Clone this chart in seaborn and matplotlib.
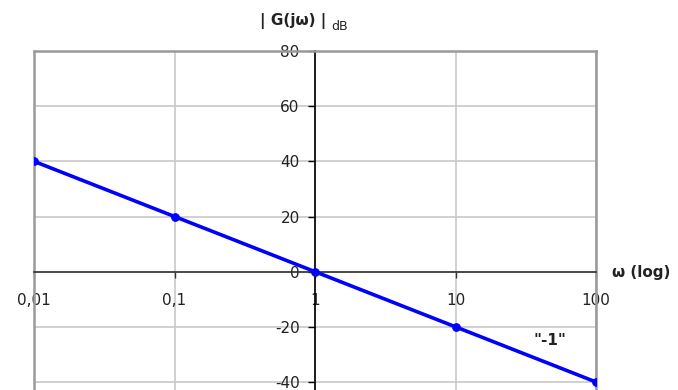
import matplotlib
matplotlib.use("Agg")
import matplotlib.pyplot as plt
import seaborn as sns
import pandas as pd

# Bode magnitude asymptote of an integrator, G(jw) = 1/(jw)
omega = [0.01, 0.1, 1, 10, 100]
gain_db = [40, 20, 0, -20, -40]
x_ticks = [0.01, 0.1, 1, 10, 100]
x_tick_labels = ["0,01", "0,1", "1", "10", "100"]
y_ticks = [-40, -20, 0, 20, 40, 60, 80]
y_tick_labels = ["-40", "-20", "0", "20", "40", "60", "80"]

df = pd.DataFrame({"omega": omega, "gain": gain_db})

sns.set_theme(style="white")
plt.rcParams["font.family"] = ["DejaVu Sans"]

fig = plt.figure(figsize=(6.78, 3.90), dpi=100)
ax = fig.add_axes([34 / 678, 0.0, (596 - 34) / 678, (390 - 51) / 390])

ax.set_xscale("log")
ax.set_xlim(0.01, 100)
ax.set_ylim(-42.9, 80)

# light grid
for xv in x_ticks:
    ax.axvline(xv, color="#c8c8c8", lw=1.2, zorder=0)
for yv in y_ticks:
    ax.axhline(yv, color="#c8c8c8", lw=1.2, zorder=0)

sns.lineplot(data=df, x="omega", y="gain", ax=ax, color="#0000ff",
             linewidth=2.6, marker="o", markersize=5.5,
             markeredgecolor="#0000ff", zorder=3)

# frame
for side in ["top", "right"]:
    ax.spines[side].set_color("#999999")
    ax.spines[side].set_linewidth(1.8)
ax.spines["left"].set_position(("data", 1))
ax.spines["left"].set_color("black")
ax.spines["left"].set_linewidth(1.2)
ax.spines["bottom"].set_position(("data", 0))
ax.spines["bottom"].set_color("#333333")
ax.spines["bottom"].set_linewidth(1.2)
# gray outer border on the left edge
ax.plot([0.01, 0.01], [-42.9, 80], color="#999999", lw=1.8, zorder=1, clip_on=False)

ax.set_xticks(x_ticks)
ax.set_xticklabels(x_tick_labels)
ax.set_yticks(y_ticks)
ax.set_yticklabels(y_tick_labels)
ax.minorticks_off()
ax.tick_params(axis="x", which="major", bottom=True, direction="out", length=4,
               width=1, color="#333333", labelsize=11, pad=11, labelcolor="#222222")
ax.tick_params(axis="y", which="major", left=True, direction="out", length=5,
               width=1, color="black", labelsize=11, pad=6, labelcolor="#222222")
ax.set_xlabel("")
ax.set_ylabel("")

# axis titles
fig.text(293 / 678, 1 - 21 / 390, "| G(jω) |", ha="center", va="center",
         fontsize=11, fontweight="bold", color="#222222")
fig.text(331 / 678, 1 - 26 / 390, "dB", ha="left", va="center",
         fontsize=9, color="#222222")
fig.text(612 / 678, 1 - 272 / 390, "ω (log)", ha="left", va="center",
         fontsize=11, fontweight="bold", color="#222222")
ax.text(47, -25.1, "\"-1\"", ha="center", va="center",
        fontsize=11, fontweight="bold", color="#222222")

fig.savefig("out.png", dpi=100)
